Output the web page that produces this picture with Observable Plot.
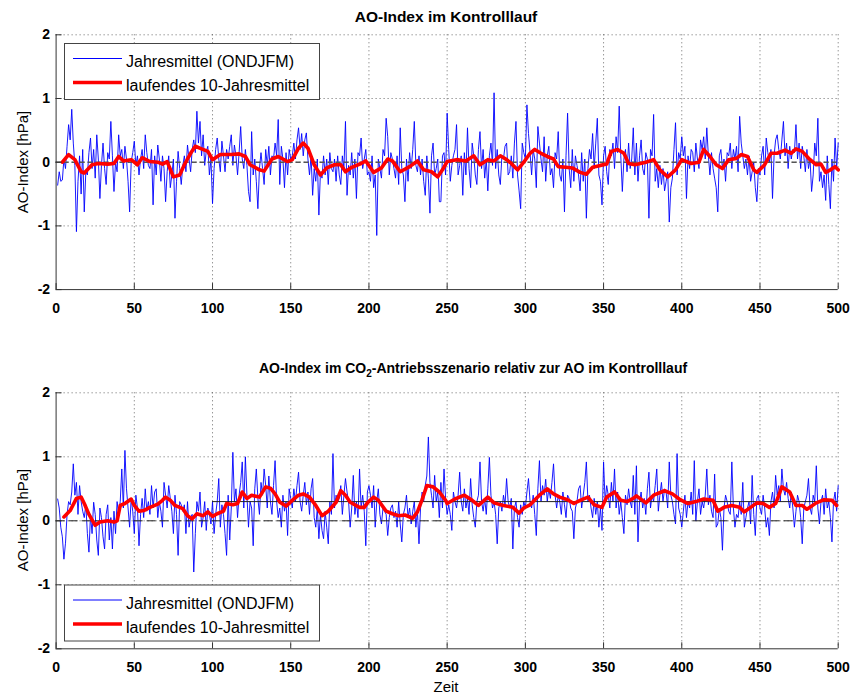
<!DOCTYPE html>
<html><head><meta charset="utf-8">
<script src="https://cdn.jsdelivr.net/npm/d3@7"></script>
<script src="https://cdn.jsdelivr.net/npm/@observablehq/plot@0.6"></script>
<style>
body{margin:0;background:#fff;font-family:"Liberation Sans",Arial,Helvetica,sans-serif;}
#wrap{position:relative;width:852px;height:695px;overflow:hidden;background:#fff;}
#wrap > svg, #wrap > div{position:absolute;left:0;}
</style></head><body><div id="wrap"></div>
<script>
// ---------- data ----------
const aoControl = [
-0.36,-0.15,-0.30,-0.28,0.05,-0.10,0.25,0.59,0.35,0.83,
0.30,-0.05,-1.09,-0.30,0.10,-0.50,0.20,-0.78,-0.15,-0.20,
0.15,0.38,-0.10,0.20,-0.25,0.43,0.05,-0.57,-0.05,0.30,
-0.10,-0.35,0.15,0.05,0.64,0.10,-0.46,0.00,-0.15,0.43,
0.10,0.20,-0.10,0.25,0.05,-0.30,-0.78,0.00,0.15,0.33,
-0.05,0.10,-0.20,0.05,0.20,-0.10,0.43,0.15,-0.05,-0.10,
0.20,-0.67,0.10,-0.20,0.27,0.05,-0.30,0.10,-0.10,-0.62,
-0.15,0.10,-0.40,-0.20,0.05,-0.88,-0.30,0.17,-0.10,-0.35,
-0.05,0.10,-0.15,0.27,0.05,-0.15,0.20,0.35,0.15,0.80,
0.30,0.64,0.10,0.43,-0.05,0.17,0.25,-0.20,0.05,-0.65,
-0.10,0.20,0.38,0.05,-0.15,0.33,0.10,-0.15,0.20,0.05,
0.25,0.43,-0.05,0.27,0.10,-0.20,0.15,0.56,0.05,-0.10,
0.20,-0.05,-0.46,-0.62,0.48,-0.20,0.05,-0.30,-0.73,-0.10,
0.15,-0.10,-0.35,0.20,-0.05,0.25,-0.20,0.10,0.05,0.30,
0.10,0.67,-0.35,0.25,0.05,-0.40,0.15,-0.20,0.20,0.05,
0.10,0.30,0.05,0.35,0.54,0.20,0.45,0.10,0.35,0.46,
0.05,-0.20,0.10,-0.52,-0.10,-0.30,0.05,-0.83,-0.15,-0.25,
0.10,-0.20,0.05,-0.35,0.15,-0.10,-0.15,0.05,-0.30,0.10,
-0.20,-0.35,0.10,-0.10,0.64,-0.52,-0.05,-0.20,0.15,-0.25,
0.05,-0.57,0.15,0.10,0.38,-0.10,0.05,0.20,-0.20,-0.15,
-0.30,0.10,-0.40,-0.20,-1.15,0.05,-0.10,-0.25,0.20,0.10,
0.69,0.40,-0.20,0.15,0.05,-0.10,-0.25,0.10,-0.35,0.54,
-0.10,-0.20,-0.62,0.05,-0.30,0.15,-0.10,0.20,0.64,-0.05,
-0.15,0.10,-0.20,0.05,-0.30,-0.52,0.10,-0.25,-0.80,0.10,
0.30,-0.20,-0.10,0.05,-0.62,-0.62,0.10,0.15,-0.20,0.77,
0.20,-0.30,-0.05,0.10,0.20,0.59,-0.20,-0.05,0.10,-0.52,
0.15,-0.20,0.54,-0.10,-0.40,0.30,0.10,-0.20,-0.35,0.20,
0.48,-0.10,0.20,-0.25,0.05,-0.45,0.10,0.30,-0.05,1.09,
-0.10,0.20,-0.20,-0.35,0.10,0.05,0.25,0.30,-0.20,-0.15,
0.10,-0.25,0.30,0.64,-0.20,-0.45,-0.73,0.30,0.15,0.05,
0.90,0.45,0.15,-0.20,0.20,0.05,-0.40,0.56,0.30,0.05,
-0.15,0.40,-0.30,0.10,0.25,-0.20,-0.10,-0.40,0.15,0.05,
0.48,-0.20,-0.30,0.05,-0.78,0.10,0.77,-0.10,-0.40,0.20,
-0.30,0.10,-0.05,-0.20,-0.45,0.15,-0.30,0.05,-0.88,-0.10,
0.20,0.05,0.45,-0.10,0.30,0.69,-0.20,-0.30,-0.67,0.10,
0.25,-0.15,-0.35,0.20,0.10,0.30,-0.10,0.40,0.15,0.88,
0.10,-0.46,0.05,0.20,-0.15,0.30,-0.10,0.05,0.54,-0.20,
0.30,-0.30,0.10,0.35,-0.10,-0.20,0.15,0.05,-0.88,0.20,
0.10,0.75,-0.30,-0.10,-0.40,-0.05,-0.35,-0.10,-0.45,-0.30,
-0.15,-0.94,-0.40,-0.25,0.20,0.62,-0.20,0.15,0.05,0.40,
0.10,0.25,-0.57,0.10,-0.10,0.20,0.15,-0.15,0.30,0.05,
-0.10,0.35,0.20,0.40,0.05,0.54,0.10,-0.20,0.15,-0.10,
-0.25,-0.40,-0.78,0.10,0.20,-0.10,0.05,-0.30,0.15,0.10,
0.30,-0.10,0.20,0.05,0.25,-0.15,0.72,0.30,0.10,-0.10,
0.05,-0.20,0.10,-0.30,-0.15,0.00,-0.40,-0.62,-0.10,-0.20,
0.10,0.25,-0.20,0.38,0.15,0.00,0.20,-0.57,0.10,0.35,
0.43,0.20,0.05,0.35,0.64,0.10,0.30,-0.10,0.25,0.05,
0.20,0.15,0.59,0.05,0.30,-0.10,0.25,0.10,-0.15,0.20,
-0.10,0.05,-0.46,-0.20,0.30,0.10,0.69,-0.30,-0.15,-0.40,
-0.20,-0.60,0.10,-0.35,-0.73,0.05,-0.30,0.38,-0.10,0.30];

const runControlYears = [4,8,12,16,18,23,27,33,37,40,43,48,52,55,60,65,68,71,75,79,82,86,89,93,97,100,105,112,117,121,124,130,133,138,142,148,151,155,158,161,165,169,173,178,182,185,189,195,198,203,208,212,215,220,226,231,235,240,244,247,250,256,262,267,271,276,280,284,288,291,295,299,303,306,310,314,318,321,326,330,335,339,343,348,352,355,359,363,366,370,377,382,386,391,396,400,406,411,414,418,422,426,430,435,438,442,446,448,453,457,461,466,470,473,477,482,486,489,492,495,498,500];
const runControlMean = [0.0,0.12,0.04,-0.15,-0.17,-0.04,-0.02,-0.03,-0.02,0.09,0.02,0.04,-0.04,0.07,0.01,0.0,-0.03,0.01,-0.23,-0.2,-0.04,0.14,0.25,0.21,0.17,0.04,0.12,0.12,0.13,0.09,-0.04,-0.12,-0.14,0.05,0.09,0.01,0.04,0.22,0.3,0.22,-0.04,-0.2,-0.09,-0.04,-0.04,-0.15,-0.08,-0.02,0.02,-0.16,-0.09,0.05,0.02,-0.15,-0.07,0.02,-0.12,-0.15,-0.23,-0.12,0.01,0.04,0.02,0.1,-0.04,0.04,0.02,0.1,0.04,-0.02,-0.12,0.0,0.14,0.2,0.14,0.09,0.05,-0.07,-0.08,-0.09,-0.16,-0.19,-0.08,-0.05,-0.03,0.17,0.2,0.14,-0.02,-0.04,0.0,0.04,-0.12,-0.23,-0.12,0.04,-0.02,0.0,0.2,0.09,-0.04,-0.1,0.04,0.06,0.12,0.09,-0.12,-0.16,-0.04,0.14,0.14,0.19,0.14,0.21,0.17,0.04,-0.04,-0.03,-0.16,-0.12,-0.07,-0.12];

const aoCO2 = [
0.34,0.20,-0.10,-0.25,-0.60,-0.35,0.10,0.30,0.25,0.45,
0.89,0.40,0.60,0.10,0.55,0.30,0.15,0.05,0.25,-0.20,
-0.49,0.10,-0.20,0.29,0.10,-0.30,-0.54,0.20,0.05,-0.25,
-0.44,0.10,0.25,-0.30,0.05,-0.44,0.15,-0.20,0.30,0.10,
0.30,0.81,0.20,1.10,0.50,0.20,-0.10,0.35,0.15,-0.20,
0.40,0.20,-0.39,0.10,0.35,0.05,0.50,0.15,0.30,0.10,
0.55,0.20,0.45,0.50,0.05,0.30,0.15,-0.10,0.60,0.40,
0.20,0.55,0.35,0.15,-0.20,0.40,0.10,-0.54,0.30,0.25,
0.15,0.25,-0.20,0.30,-0.10,0.05,0.10,-0.80,-0.20,0.30,
0.15,0.45,-0.10,0.05,0.30,-0.15,0.20,0.10,-0.05,0.30,
-0.20,0.10,0.30,0.66,-0.10,0.25,0.10,-0.20,-0.54,0.40,
-0.30,0.20,1.07,0.30,0.50,0.05,0.40,0.60,0.92,0.20,
1.00,0.40,-0.10,0.30,0.20,-0.39,0.50,0.81,0.35,0.10,
0.60,0.40,0.81,0.55,0.20,0.70,0.30,0.10,0.55,0.94,
0.30,0.05,0.20,-0.10,0.40,0.15,0.30,-0.23,0.50,0.35,
0.20,0.50,0.30,0.55,0.76,0.30,0.15,0.40,0.60,0.25,
0.45,0.10,0.50,0.66,0.05,-0.10,0.20,-0.28,0.10,-0.15,
-0.28,0.15,-0.10,-0.36,0.30,0.10,1.05,0.20,0.40,0.30,
0.35,0.55,0.10,0.40,0.66,0.45,0.30,-0.10,0.20,0.71,
0.10,0.30,0.05,0.81,0.20,0.40,0.15,-0.39,0.45,0.55,
0.40,0.20,0.55,-0.10,0.30,0.50,0.10,-0.05,0.20,0.15,
0.10,-0.23,0.05,0.20,0.25,0.05,0.15,-0.10,0.30,-0.05,
-0.33,0.10,0.20,0.40,0.05,0.20,-0.05,0.15,0.30,-0.10,
0.15,-0.36,0.20,0.45,0.30,0.55,0.70,1.31,0.60,0.40,
0.20,0.71,0.30,0.45,0.05,0.60,0.20,0.81,0.35,0.10,
0.25,0.10,-0.15,0.45,0.30,0.20,0.40,0.76,0.30,0.15,
0.50,0.20,0.35,0.10,0.66,0.25,0.05,-0.10,0.30,0.40,
0.92,0.30,0.15,0.35,0.10,0.50,0.99,0.40,0.20,0.30,
0.10,-0.36,0.20,0.30,0.15,0.40,0.25,0.66,0.30,0.20,
0.35,-0.44,0.20,0.30,0.05,-0.10,0.25,0.10,0.30,0.20,
0.45,0.66,0.30,0.20,0.40,0.10,-0.23,0.50,0.94,0.30,
0.55,0.40,0.65,0.30,0.50,0.35,0.60,0.89,0.40,0.20,
0.40,0.30,0.10,0.45,0.25,0.05,0.40,0.35,0.20,0.15,
-0.28,0.20,0.30,0.50,0.55,0.20,0.40,0.60,0.92,0.30,
0.40,0.20,0.05,0.35,0.10,0.30,-0.10,0.20,-0.15,0.92,
0.30,0.55,0.40,0.20,0.60,0.30,0.81,0.20,0.45,0.10,
0.30,0.05,-0.20,0.40,0.25,0.50,0.30,0.20,0.71,0.10,
0.86,-0.33,0.30,0.45,0.20,0.35,0.10,0.50,0.76,0.20,
0.40,0.30,0.55,0.81,0.15,0.40,0.60,0.30,0.50,0.45,
0.20,0.92,0.40,0.30,0.10,-0.05,1.05,0.20,0.10,-0.10,
0.15,0.40,0.05,0.30,0.20,0.45,0.10,0.94,0.00,0.30,
0.50,0.10,0.30,0.20,0.40,0.81,0.25,0.40,0.15,0.05,
0.73,-0.10,-0.05,0.20,0.05,-0.46,0.20,0.40,0.30,0.15,
0.10,0.92,0.20,-0.10,0.10,0.05,0.30,0.10,0.60,-0.10,
0.05,0.20,0.30,-0.05,0.71,0.10,-0.23,0.35,0.40,0.20,
0.10,0.40,0.20,-0.10,0.05,-0.23,0.30,0.45,0.20,0.71,
0.40,0.55,0.30,0.81,0.50,0.40,0.60,0.35,0.20,0.45,
0.20,-0.10,0.15,0.40,0.30,0.05,-0.36,0.20,0.30,0.40,
0.66,0.20,0.10,0.40,0.30,0.86,0.20,-0.05,0.30,0.40,
0.10,0.50,0.20,0.30,0.05,-0.33,0.30,0.45,0.15,0.55];

const runCO2Years = [5,9,13,16,18,21,25,28,33,37,39,41,44,48,50,53,56,60,65,68,70,73,76,81,84,87,90,94,97,100,103,107,109,113,116,119,122,125,130,134,137,140,143,147,151,155,158,162,166,170,174,179,182,185,188,194,197,199,203,206,211,215,219,223,228,231,234,237,241,245,249,250,255,261,266,270,276,280,286,292,296,299,303,309,314,318,322,327,331,335,340,344,349,352,357,361,365,369,371,377,382,389,394,399,404,409,414,420,423,427,432,437,440,444,448,452,456,460,464,469,473,477,480,486,491,496,499];
const runCO2Mean = [0.06,0.16,0.35,0.37,0.27,0.1,-0.07,-0.02,0.0,-0.02,0.0,0.24,0.27,0.34,0.24,0.15,0.16,0.21,0.26,0.32,0.37,0.32,0.24,0.19,0.08,0.03,0.11,0.08,0.14,0.07,0.11,0.15,0.27,0.25,0.27,0.45,0.35,0.4,0.37,0.53,0.51,0.42,0.29,0.23,0.32,0.4,0.42,0.37,0.24,0.08,0.15,0.29,0.47,0.4,0.29,0.21,0.21,0.28,0.37,0.32,0.15,0.11,0.08,0.09,0.04,0.14,0.33,0.55,0.53,0.45,0.32,0.27,0.34,0.4,0.32,0.24,0.37,0.28,0.24,0.21,0.12,0.2,0.25,0.4,0.5,0.42,0.37,0.33,0.27,0.32,0.37,0.25,0.21,0.37,0.45,0.32,0.3,0.35,0.39,0.28,0.4,0.47,0.42,0.33,0.27,0.3,0.34,0.32,0.15,0.21,0.24,0.21,0.14,0.21,0.28,0.27,0.21,0.27,0.53,0.45,0.24,0.24,0.18,0.28,0.33,0.32,0.24];

const co2MeanLevel = 0.3;      // mean of CO2 run (years 100-500)
const co2MeanSpan = [100, 500];
const xTicks = [0,50,100,150,200,250,300,350,400,450,500];
const yTicks = [-2,-1,0,1,2];
const titleTop = "AO-Index im Kontrolllauf";
const yLabel = "AO-Index [hPa]";
const xLabel = "Zeit";
const legendLabels = ["Jahresmittel (ONDJFM)", "laufendes 10-Jahresmittel"];

// ---------- drawing ----------
const W = 852, ML = 55.6, MR = 14.3;
const font = '"Liberation Sans", Arial, Helvetica, sans-serif';

function panel(values, runYears, runVals, {height, mt, mb, co2}) {
  const series = values.map((v, i) => ({year: i + 1, value: v}));
  const run = runYears.map((y, i) => ({year: y, value: runVals[i]}));
  const fh = height - mt - mb, fw = W - ML - MR;
  const marks = [
    Plot.gridX(xTicks.slice(1), {stroke: "#444", strokeOpacity: 1, strokeWidth: 0.8, strokeDasharray: "1,3"}),
    Plot.gridY(yTicks.slice(1), {stroke: "#444", strokeOpacity: 1, strokeWidth: 0.8, strokeDasharray: "1,3"}),
    Plot.line(series, {x: "year", y: "value", stroke: "#0000ff", strokeWidth: 0.9}),
  ];
  if (co2) {
    marks.push(Plot.ruleY([0], {stroke: "#222", strokeWidth: 1, strokeDasharray: "9,4"}));
    marks.push(Plot.ruleY([co2MeanLevel], {x1: co2MeanSpan[0], x2: co2MeanSpan[1], stroke: "#222", strokeWidth: 1}));
  } else {
    marks.push(Plot.ruleY([0], {stroke: "#555", strokeWidth: 1.4, strokeDasharray: "5,3"}));
  }
  marks.push(
    Plot.line(run, {x: "year", y: "value", stroke: "#ff0000", strokeWidth: 3.6, strokeLinejoin: "round", strokeLinecap: "round"}),
    Plot.ruleX([0], {stroke: "#333", strokeWidth: 1}),
    Plot.ruleY([-2], {stroke: "#333", strokeWidth: 1}),
    Plot.tickX(xTicks, {x: d => d, stroke: "#333", insetTop: fh - 6}),
    Plot.tickY(yTicks, {y: d => d, stroke: "#333", insetRight: fw - 6}),
    Plot.axisX(xTicks, {tickSize: 0, tickPadding: 13, label: null, tickFormat: d => String(d)}),
    Plot.axisY(yTicks, {tickSize: 0, tickPadding: 6, label: null, tickFormat: d => String(d)})
  );
  return Plot.plot({
    width: W, height, marginLeft: ML, marginRight: MR, marginTop: mt, marginBottom: mb,
    x: {domain: [0, 500]}, y: {domain: [-2, 2]},
    style: {fontFamily: font, fontSize: "14px", fontWeight: "bold", color: "#000", background: "transparent", overflow: "visible"},
    marks
  });
}

const wrap = document.getElementById("wrap");
const p1 = panel(aoControl, runControlYears, runControlMean, {height: 330, mt: 34.3, mb: 330 - 289.1, co2: false});
p1.style.top = "0px";
wrap.appendChild(p1);
const p2 = panel(aoCO2, runCO2Years, runCO2Mean, {height: 337, mt: 34.3, mb: 695 - 648.3, co2: true});
p2.style.top = "358px";
wrap.appendChild(p2);

// overlay: titles, labels, legends
const ov = d3.select(wrap).append("svg").attr("width", W).attr("height", 695)
  .style("position", "absolute").style("top", "0px").style("left", "0px")
  .style("font-family", font);

ov.append("text").attr("x", 446).attr("y", 22).attr("text-anchor", "middle")
  .attr("font-size", 15.5).attr("font-weight", "bold").text(titleTop);

const t2 = ov.append("text").attr("x", 473).attr("y", 373).attr("text-anchor", "middle")
  .attr("font-size", 14).attr("font-weight", "bold");
t2.append("tspan").text("AO-Index im CO");
t2.append("tspan").attr("font-size", 10).attr("dy", 4).text("2");
t2.append("tspan").attr("dy", -4).text("-Antriebsszenario relativ zur AO im Kontrolllauf");

[162, 520].forEach(cy => {
  ov.append("text").attr("transform", `translate(28,${cy}) rotate(-90)`).attr("text-anchor", "middle")
    .attr("font-size", 15).text(yLabel);
});
ov.append("text").attr("x", 446).attr("y", 692).attr("text-anchor", "middle").attr("font-size", 15).text(xLabel);

function legend(x, y) {
  const g = ov.append("g").attr("transform", `translate(${x},${y})`);
  g.append("rect").attr("x", 0.5).attr("y", 0.5).attr("width", 255).attr("height", 56)
    .attr("fill", "#fff").attr("stroke", "#444").attr("stroke-width", 1);
  g.append("line").attr("x1", 9).attr("x2", 58).attr("y1", 15.5).attr("y2", 15.5).attr("stroke", "#0000ff").attr("stroke-width", 1);
  g.append("line").attr("x1", 9).attr("x2", 58).attr("y1", 39.5).attr("y2", 39.5).attr("stroke", "#ff0000").attr("stroke-width", 3.6);
  g.append("text").attr("x", 62).attr("y", 24).attr("font-size", 16).text(legendLabels[0]);
  g.append("text").attr("x", 62).attr("y", 48).attr("font-size", 16).text(legendLabels[1]);
}
legend(64, 43);
legend(64, 584.5);
</script></body></html>
